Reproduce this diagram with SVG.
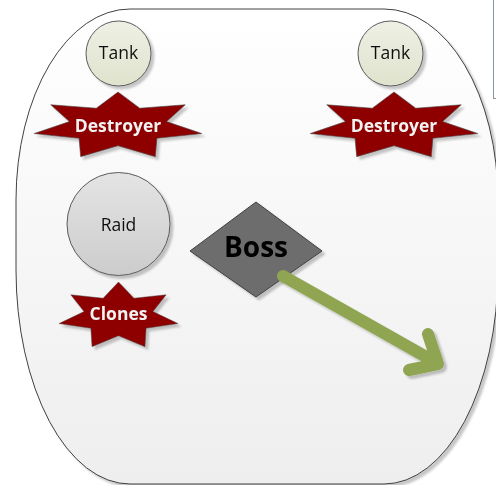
<svg xmlns="http://www.w3.org/2000/svg" width="496" height="485" viewBox="0 0 496 485">
  <defs>
    <linearGradient id="arenaFill" x1="0" y1="0" x2="0" y2="1">
      <stop offset="0" stop-color="#ffffff"/>
      <stop offset="1" stop-color="#eeeeee"/>
    </linearGradient>
    <linearGradient id="tankFill" x1="0" y1="0" x2="0" y2="1">
      <stop offset="0" stop-color="#eef0e4"/>
      <stop offset="1" stop-color="#dfe3cd"/>
    </linearGradient>
    <linearGradient id="raidFill" x1="0" y1="0" x2="0" y2="1">
      <stop offset="0" stop-color="#e4e4e4"/>
      <stop offset="1" stop-color="#cccccc"/>
    </linearGradient>
    <filter id="shadow" x="-20%" y="-20%" width="140%" height="140%">
      <feDropShadow dx="3" dy="3" stdDeviation="1.2" flood-color="#000" flood-opacity="0.22"/>
    </filter>
    <!-- 7-point star, outer radius 100, inner radius 58 -->
    <polygon id="star7" points="0,-100 25.2,-52.3 78.2,-62.4 56.5,-12.9 97.5,22.3 45.3,36.2 43.4,90.1 0,58 -43.4,90.1 -45.3,36.2 -97.5,22.3 -56.5,-12.9 -78.2,-62.4 -25.2,-52.3"/>
    <style>
      .arena { fill: url(#arenaFill); stroke: #404040; stroke-width: 1; }
      .tank { fill: url(#tankFill); stroke: #5a5a5a; stroke-width: 1; }
      .raid { fill: url(#raidFill); stroke: #5a5a5a; stroke-width: 1; }
      .star { fill: #8e0000; stroke: #4a4a4a; stroke-width: 1; }
      .boss { fill: #6d6d6d; stroke: #404040; stroke-width: 1; }
      .lbl { font-family: "Open Sans", "Liberation Sans", sans-serif; font-size: 17.5px; fill: #111; text-anchor: middle; }
      .starlbl { font-family: "Open Sans", "Liberation Sans", sans-serif; font-size: 17.5px; font-weight: bold; fill: #f2f2f2; text-anchor: middle; }
      .bosslbl { font-family: "Open Sans", "Liberation Sans", sans-serif; font-size: 28px; font-weight: bold; fill: #000; text-anchor: middle; }
      .arrow { fill: none; stroke: #8fa551; stroke-width: 12; stroke-linecap: round; stroke-linejoin: round; }
    </style>
  </defs>

  <!-- edge of a neighbouring panel -->
  <g id="side-panel">
    <rect x="493.5" y="-2" width="10" height="100.5" fill="#ffffff" stroke="#8a95a3" stroke-width="1"/>
  </g>

  <!-- rounded arena container -->
  <g id="arena" filter="url(#shadow)">
    <path class="arena" d="M130,9 H384 A114,191 0 0 1 498,200 V270 A114,214 0 0 1 384,484 H130 A114,214 0 0 1 16,270 V200 A114,191 0 0 1 130,9 Z"/>
  </g>

  <g id="tank-left" filter="url(#shadow)">
    <circle class="tank" cx="118.5" cy="53.5" r="32.5"/>
    <text class="lbl" x="118.5" y="59">Tank</text>
  </g>

  <g id="tank-right" filter="url(#shadow)">
    <circle class="tank" cx="390.5" cy="53.5" r="32.5"/>
    <text class="lbl" x="390.5" y="59">Tank</text>
  </g>

  <g id="destroyer-left" filter="url(#shadow)">
    <use href="#star7" class="star" vector-effect="non-scaling-stroke" transform="translate(118,126) scale(0.86,0.34)"/>
    <text class="starlbl" x="118" y="132">Destroyer</text>
  </g>

  <g id="destroyer-right" filter="url(#shadow)">
    <use href="#star7" class="star" vector-effect="non-scaling-stroke" transform="translate(394,126) scale(0.86,0.34)"/>
    <text class="starlbl" x="394" y="132">Destroyer</text>
  </g>

  <g id="raid" filter="url(#shadow)">
    <circle class="raid" cx="118.5" cy="224" r="51.5"/>
    <text class="lbl" x="118.5" y="231">Raid</text>
  </g>

  <g id="clones" filter="url(#shadow)">
    <use href="#star7" class="star" vector-effect="non-scaling-stroke" transform="translate(118.5,316) scale(0.61,0.34)"/>
    <text class="starlbl" x="118.5" y="320">Clones</text>
  </g>

  <g id="boss" filter="url(#shadow)">
    <polygon class="boss" points="256,202 322,251 256,297 190,251"/>
    <text class="bosslbl" x="256" y="257">Boss</text>
  </g>

  <g id="connectors" filter="url(#shadow)">
    <line class="arrow" x1="283" y1="276" x2="437" y2="363"/>
    <polyline class="arrow" points="428,334 438,364 409,370"/>
  </g>
</svg>
